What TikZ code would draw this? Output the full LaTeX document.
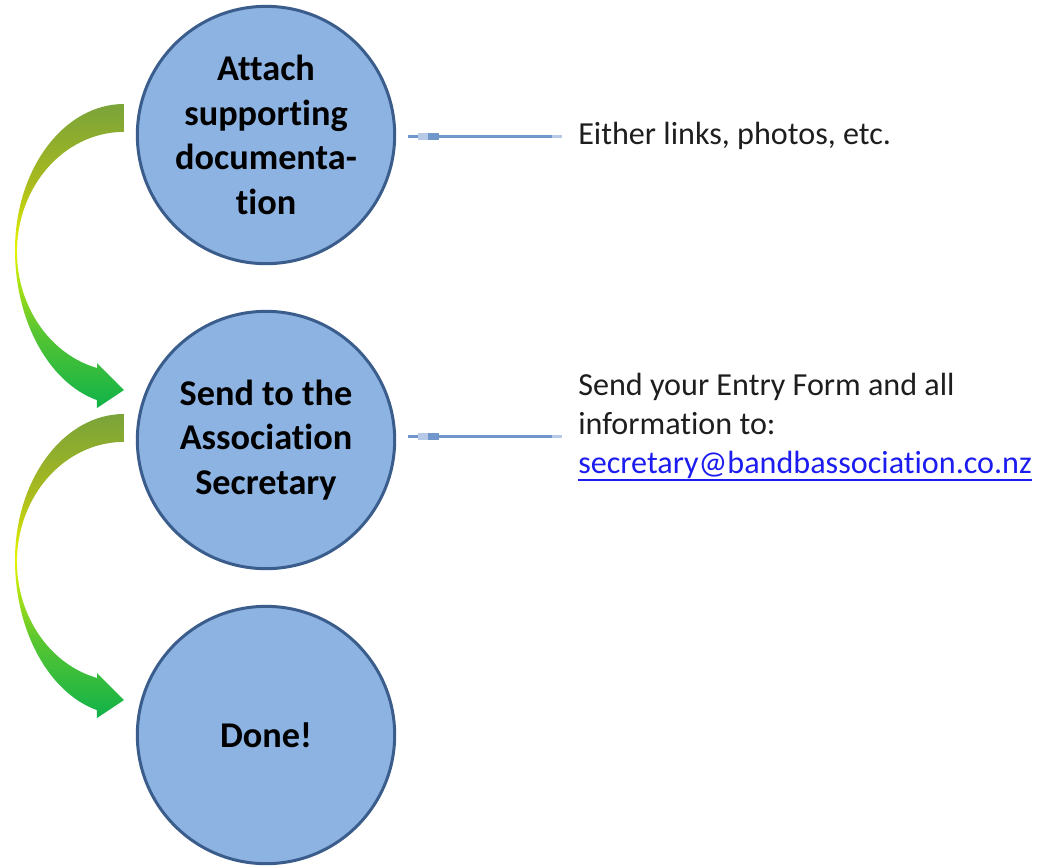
\documentclass[tikz,border=0pt]{standalone}
\usepackage{fontspec}
\setmainfont[Ligatures={NoCommon}]{Carlito}
\definecolor{stagefill}{RGB}{141,179,226}
\definecolor{stageline}{RGB}{58,93,140}
\definecolor{linkblue}{RGB}{112,150,204}
\definecolor{linkpale}{RGB}{182,202,232}
\definecolor{flowtop}{RGB}{122,163,58}
\definecolor{flowupper}{RGB}{168,186,30}
\definecolor{flowmid}{RGB}{230,245,0}
\definecolor{flowlower}{RGB}{90,198,48}
\definecolor{flowbot}{RGB}{16,178,74}
\definecolor{mailblue}{RGB}{28,28,240}
\definecolor{notetext}{RGB}{30,30,30}
\pgfdeclareverticalshading{flowshade}{100bp}{color(0bp)=(flowbot); color(25bp)=(flowbot);
  color(38bp)=(flowlower); color(51bp)=(flowmid); color(62bp)=(flowupper);
  color(75bp)=(flowtop); color(100bp)=(flowtop)}
\newcommand\mailline[1]{\setbox0\hbox{#1}\rlap{\copy0}\rule[-5.5pt]{\wd0}{1.3pt}}

\begin{document}
\begin{tikzpicture}[
    x=0.75pt, y=-0.75pt,
    stage/.style={circle, draw=stageline, fill=stagefill, line width=2.25pt,
      minimum size=193pt, inner sep=0pt, align=center,
      font=\fontsize{27.2}{33.5}\selectfont\bfseries},
    note/.style={anchor=west, inner sep=0pt, align=left, text=notetext,
      font=\fontsize{24.1}{29.25}\selectfont},
    link/.style={draw=linkblue, line width=2.25pt},
    linktail/.style={draw=linkpale, line width=2.25pt},
    flow/.style={shading=flowshade}
]
  \useasboundingbox (0,0) rectangle (1044,865);

  % the three steps
  \node[stage] (attach) at (266,135) {Attach\\supporting\\documenta-\\tion};
  \node[stage] (send) at (266,440) {Send to the\\Association\\Secretary};
  \node[stage] (done) at (266,735) {Done!};

  % notes on the right
  \node[note] (either) at (578,136) {Either links, photos, etc.};
  \node[note] (entry) at (578,427) {Send your Entry Form and all\\information to:\\
    \textcolor{mailblue}{\mailline{secretary@bandbassociation.co.nz}}};

  % curved arrows between the steps
  \shade[flow] (124,104) arc[start angle=270, end angle=180, x radius=109, y radius=146]
    arc[start angle=180, end angle=104.4, x radius=109, y radius=155]
    -- (97,408) -- (124,390) -- (97,363) -- (97,368)
    arc[start angle=104.6, end angle=270, x radius=107, y radius=120] -- cycle;
  \shade[flow, shift={(0,310)}] (124,104) arc[start angle=270, end angle=180, x radius=109, y radius=146]
    arc[start angle=180, end angle=104.4, x radius=109, y radius=155]
    -- (97,408) -- (124,390) -- (97,363) -- (97,368)
    arc[start angle=104.6, end angle=270, x radius=107, y radius=120] -- cycle;

  % connectors to the notes
  \draw[linktail, shorten <=9pt, shorten >=12pt] (attach.east |- 0,136) -- (either.west |- 0,136);
  \draw[link, shorten <=9pt, shorten >=19.5pt] (attach.east |- 0,136) -- (either.west |- 0,136);
  \draw[linkpale, line width=5.25pt] (attach.east |- 0,136) ++(22,0) -- ++(21,0);
  \draw[linkblue, line width=5.25pt] (attach.east |- 0,136) ++(32,0) -- ++(11,0);

  \draw[linktail, shorten <=9pt, shorten >=12pt] (send.east |- 0,436) -- (entry.west |- 0,436);
  \draw[link, shorten <=9pt, shorten >=19.5pt] (send.east |- 0,436) -- (entry.west |- 0,436);
  \draw[linkpale, line width=5.25pt] (send.east |- 0,436) ++(22,0) -- ++(21,0);
  \draw[linkblue, line width=5.25pt] (send.east |- 0,436) ++(32,0) -- ++(11,0);
\end{tikzpicture}
\end{document}
